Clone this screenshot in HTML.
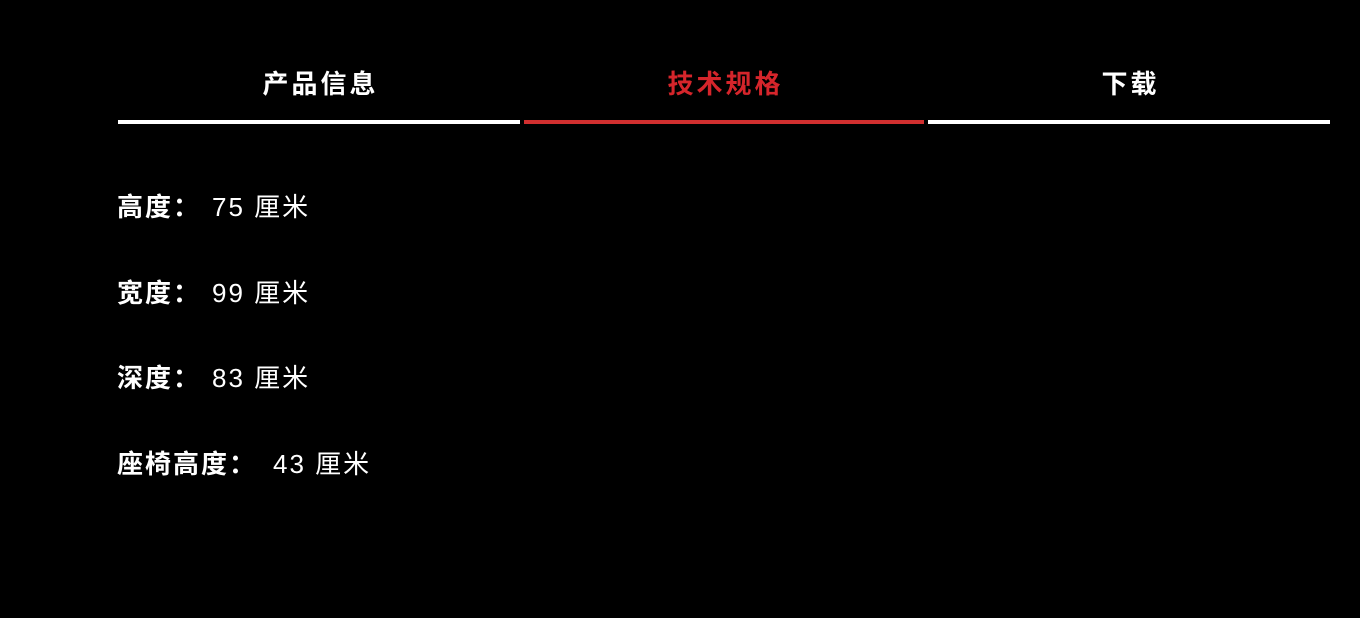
<!DOCTYPE html>
<html><head><meta charset="utf-8"><style>
body{margin:0;width:1360px;height:618px;background:#000;overflow:hidden;font-family:"Liberation Sans","Noto Sans CJK SC",sans-serif;color:#fff}
.tab{position:absolute;top:64px;height:40px;line-height:40px;text-align:center;font-size:26px;font-weight:bold;letter-spacing:3px;text-indent:3px}
.line{position:absolute;top:120px;height:4px;background:#fff}
.row{position:absolute;left:117px;font-size:26px;line-height:30px;letter-spacing:2px;white-space:nowrap}
.row b{font-weight:bold;display:inline-block;width:95px;letter-spacing:2px}
.row b.w{width:156px}
</style></head><body>
<div class="tab" style="left:118px;width:402px">产品信息</div>
<div class="tab" style="left:524px;width:400px;color:#d5252b">技术规格</div>
<div class="tab" style="left:928px;width:402px">下载</div>
<div class="line" style="left:118px;width:402px"></div>
<div class="line" style="left:524px;width:400px;background:#d12f2f"></div>
<div class="line" style="left:928px;width:402px"></div>
<div class="row" style="top:192px"><b>高度：</b>75 厘米</div>
<div class="row" style="top:278px"><b>宽度：</b>99 厘米</div>
<div class="row" style="top:363px"><b>深度：</b>83 厘米</div>
<div class="row" style="top:449px"><b class="w">座椅高度：</b>43 厘米</div>
</body></html>
